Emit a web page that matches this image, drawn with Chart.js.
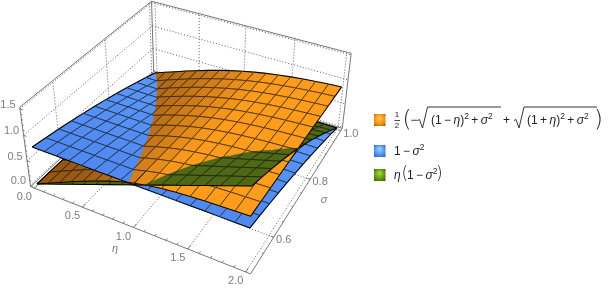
<!DOCTYPE html>
<html><head><meta charset="utf-8">
<script src="https://cdn.jsdelivr.net/npm/chart.js@4"></script>
<style>html,body{margin:0;padding:0;background:#fff}canvas{display:block}</style>
</head><body><canvas id="c" width="608" height="289"></canvas>
<script>
const etaGrid=[0,.125,.25,.375,.5,.625,.75,.875,1,1.125,1.25,1.375,1.5,1.625,1.75,1.875,2];
const sigmaGrid=[.5,.54545,.59091,.63636,.68182,.72727,.77273,.81818,.86364,.90909,.95455,1];
const blueBySigma=[.750,.702,.651,.595,.535,.471,.403,.331,.254,.174,.089,0];
const greenRows=[
[0,0,0,0,0,0,0,0,0,0,0,0],
[.094,.088,.081,.074,.067,.059,.050,.041,.032,.022,.011,0],
[.188,.176,.163,.149,.134,.118,.101,.083,.064,.044,.022,0],
[.281,.263,.244,.223,.201,.177,.151,.124,.095,.065,.033,0],
[.375,.351,.326,.298,.268,.236,.202,.165,.127,.087,.044,0],
[.469,.439,.407,.372,.334,.294,.252,.207,.159,.109,.056,0],
[.563,.527,.488,.446,.401,.353,.302,.248,.191,.130,.067,0],
[.656,.614,.570,.521,.468,.412,.353,.290,.222,.152,.078,0],
[.750,.702,.651,.595,.535,.471,.403,.331,.254,.174,.089,0],
[.844,.790,.732,.669,.602,.530,.453,.372,.286,.196,.100,0],
[.938,.878,.814,.744,.669,.589,.504,.414,.318,.218,.111,0],
[1.031,.965,.895,.818,.736,.648,.554,.455,.349,.239,.122,0],
[1.125,1.053,.977,.893,.803,.707,.605,.496,.381,.261,.133,0],
[1.219,1.141,1.058,.967,.869,.765,.655,.538,.413,.283,.145,0],
[1.313,1.229,1.139,1.041,.936,.824,.705,.579,.445,.305,.156,0],
[1.406,1.316,1.221,1.116,1.003,.883,.756,.621,.476,.326,.167,0],
[1.5,1.404,1.302,1.190,1.070,.942,.806,.662,.508,.348,.178,0]];
const orangeRows=[
[0,0,0,0,0,0,0,0,0,0,0,0],
[.112,.110,.108,.105,.103,.101,.099,.097,.095,.092,.090,.088],
[.222,.218,.213,.209,.205,.201,.196,.192,.188,.184,.179,.175],
[.331,.324,.318,.311,.305,.298,.292,.285,.279,.273,.267,.261],
[.437,.428,.419,.410,.401,.392,.384,.375,.367,.358,.350,.342],
[.538,.526,.515,.503,.492,.481,.471,.460,.450,.440,.430,.420],
[.631,.617,.603,.590,.576,.563,.551,.538,.526,.515,.503,.492],
[.713,.697,.681,.666,.651,.637,.623,.609,.596,.583,.571,.559],
[.781,.764,.747,.731,.716,.701,.686,.671,.657,.644,.631,.618],
[.834,.818,.801,.785,.770,.755,.740,.725,.711,.697,.683,.670],
[.873,.858,.842,.827,.813,.798,.784,.770,.756,.742,.729,.716],
[.901,.887,.873,.860,.846,.833,.819,.806,.793,.780,.767,.754],
[.921,.909,.897,.884,.872,.860,.848,.836,.824,.811,.799,.787],
[.936,.925,.915,.904,.893,.882,.871,.860,.849,.838,.826,.815],
[.947,.938,.929,.919,.910,.900,.890,.880,.870,.859,.849,.838],
[.955,.947,.939,.931,.922,.913,.905,.895,.886,.877,.868,.858],
[.962,.955,.948,.940,.933,.925,.917,.909,.900,.892,.883,.874]];
const etaTicks=[0,.5,1,1.5,2], etaTickLabels=['0.0','0.5','1.0','1.5','2.0'];
const sigmaTicks=[.6,.8,1], sigmaTickLabels=['0.6','0.8','1.0'];
const zTicks=[0,.5,1,1.5], zTickLabels=['0.0','0.5','1.0','1.5'];
const etaMinor=[.1,.2,.3,.4,.6,.7,.8,.9,1.1,1.2,1.3,1.4,1.6,1.7,1.8,1.9];
const sigmaMinor=[.55,.65,.7,.75,.85,.9,.95];
const zMinor=[.1,.2,.3,.4,.6,.7,.8,.9,1.1,1.2,1.3,1.4];

// camera calibration (normalised box coords -> canvas scale units)
const CX=[37,182.3,151.5,-11.6],CY=[184,52.06,-95.2,-82.8],CD=[1,-.1159,.2163,-.06];
function proj(eta,sig,z){
  const u=eta/2,v=(sig-.5)/.5,w=z/1.5,d=CD[0]+CD[1]*u+CD[2]*v+CD[3]*w;
  return {x:(CX[0]+CX[1]*u+CX[2]*v+CX[3]*w)/d,y:(CY[0]+CY[1]*u+CY[2]*v+CY[3]*w)/d};
}
const E0=-.04,E1=2.04,S0=.49,S1=1.01,Z0=-.03,Z1=1.53;
const list=[]; // painter order: first = bottom
function seg(a,b,col,w,dash){list.push({data:[a,b],showLine:true,fill:false,borderColor:col,borderWidth:w,pointRadius:0,borderDash:dash||[1e5,1]});}
const DOT=[1,2],GD='#5a5a5a',AX='#777777';
etaTicks.forEach(e=>{seg(proj(e,S0,Z0),proj(e,S1,Z0),GD,1,DOT);seg(proj(e,S1,Z0),proj(e,S1,Z1),GD,1,DOT);});
sigmaTicks.forEach(s=>{seg(proj(E0,s,Z0),proj(E1,s,Z0),GD,1,DOT);seg(proj(E0,s,Z0),proj(E0,s,Z1),GD,1,DOT);});
zTicks.forEach(z=>{seg(proj(E0,S0,z),proj(E0,S1,z),GD,1,DOT);seg(proj(E0,S1,z),proj(E1,S1,z),GD,1,DOT);});
[[E0,S0,Z0,E0,S0,Z1],[E0,S0,Z1,E0,S1,Z1],[E0,S1,Z1,E1,S1,Z1],[E1,S1,Z1,E1,S1,Z0],[E0,S0,Z0,E1,S0,Z0],[E1,S0,Z0,E1,S1,Z0],[E0,S1,Z1,E0,S1,Z0],[E0,S0,Z0,E0,S1,Z0],[E0,S1,Z0,E1,S1,Z0]]
 .forEach(b=>seg(proj(b[0],b[1],b[2]),proj(b[3],b[4],b[5]),AX,1));
etaTicks.forEach(e=>seg(proj(e,S0,Z0),proj(e,S0+.012,Z0),AX,1));
etaMinor.forEach(e=>seg(proj(e,S0,Z0),proj(e,S0+.006,Z0),AX,1));
sigmaTicks.forEach(s=>seg(proj(E1,s,Z0),proj(E1-.025,s,Z0),AX,1));
sigmaMinor.forEach(s=>seg(proj(E1,s,Z0),proj(E1-.012,s,Z0),AX,1));
zTicks.forEach(z=>seg(proj(E0,S0,z),proj(E0+.03,S0,z),AX,1));
zMinor.forEach(z=>seg(proj(E0,S0,z),proj(E0+.015,S0,z),AX,1));

const PAIRS=[[0,1],[0,2],[1,2]],EPS=1e-9,NI=etaGrid.length-1,NJ=sigmaGrid.length-1;
const mix=(a,b,t)=>`rgb(${a.map((v,i)=>Math.round(v+(b[i]-v)*t)).join(',')})`;
function zOf(s,i,j){return s===0?orangeRows[i][j]:s===1?blueBySigma[j]:greenRows[i][j];}
function cellColor(s,i,j){
  if(s===1) return mix([80,138,240],[94,154,252],j/NJ);
  if(s===2) return 'rgb(78,104,22)';
  const sl=((zOf(0,i+1,j)+zOf(0,i+1,j+1))-(zOf(0,i,j)+zOf(0,i,j+1)))/2/.125;
  const t=Math.min(1,Math.max(0,(.88-sl)/.58));
  return mix([150,86,20],[255,156,28],t);
}
function split(poly,a,b){
  const P=[],N=[],n=poly.length;
  for(let k=0;k<n;k++){
    const p=poly[k],q=poly[(k+1)%n],hp=p.z[a]-p.z[b],hq=q.z[a]-q.z[b];
    (hp>=0?P:N).push(p);
    if((hp>=0)!==(hq>=0)){
      const t=hp/(hp-hq),m={e:p.e+(q.e-p.e)*t,s:p.s+(q.s-p.s)*t,z:p.z.map((v,c)=>v+(q.z[c]-v)*t)};
      P.push(m);N.push(m);
    }
  }
  return [P,N].filter(x=>x.length>=3);
}
for(let i=0;i<NI;i++)for(let j=NJ-1;j>=0;j--){
  const V=(a,b)=>({e:etaGrid[a],s:sigmaGrid[b],z:[zOf(0,a,b),zOf(1,a,b),zOf(2,a,b)]});
  const q=[V(i,j),V(i+1,j),V(i+1,j+1),V(i,j+1)];
  const mixed=PAIRS.some(([a,b])=>{const h=q.map(v=>v.z[a]-v.z[b]);return h.some(x=>x>EPS)&&h.some(x=>x<-EPS);});
  let pieces=[q];
  if(mixed){
    pieces=[[q[0],q[1],q[2]],[q[0],q[2],q[3]]];
    PAIRS.forEach(([a,b])=>{pieces=pieces.flatMap(p=>split(p,a,b));});
  }
  const ranks=pieces.map(p=>{
    const mean=[0,1,2].map(s=>p.reduce((t,v)=>t+v.z[s],0)/p.length);
    return [0,1,2].sort((a,b)=>mean[a]-mean[b]||a-b);
  });
  for(let rank=0;rank<3;rank++){
    pieces.forEach((p,pi)=>{
      const s=ranks[pi][rank];
      const pts=p.map(v=>proj(v.e,v.s,v.z[s])),col=cellColor(s,i,j);
      list.push({data:[...pts,pts[0]],showLine:true,fill:'shape',backgroundColor:col,borderColor:col,borderWidth:.6,pointRadius:0,borderDash:[1e5,1]});
    });
    pieces.forEach((p,pi)=>{
      const s=ranks[pi][rank];
      const mesh=[],bound=[];
      p.forEach((a,k)=>{
        const b=p[(k+1)%p.length],onE=[i,i+1].find(g=>Math.abs(a.e-etaGrid[g])<EPS&&Math.abs(b.e-etaGrid[g])<EPS),onS=[j,j+1].find(g=>Math.abs(a.s-sigmaGrid[g])<EPS&&Math.abs(b.s-sigmaGrid[g])<EPS);
        if(onE===undefined&&onS===undefined)return;
        const out=(onE===0||onE===NI||onS===0||onS===NJ)?bound:mesh;
        out.push(proj(a.e,a.s,a.z[s]),proj(b.e,b.s,b.z[s]),{x:NaN,y:NaN});
      });
      if(mesh.length)list.push({data:mesh,showLine:true,fill:false,borderColor:'rgba(15,15,15,.7)',borderWidth:.9,pointRadius:0,borderDash:[1e5,1]});
      if(bound.length)list.push({data:bound,showLine:true,fill:false,borderColor:'#000',borderWidth:1.05,pointRadius:0,borderDash:[1e5,1]});
    });
  }
}
const LF='"Liberation Sans",Arial,sans-serif';
const textPlugin={id:'labels',afterDatasetsDraw(ch){
  const c=ch.ctx,X=v=>ch.scales.x.getPixelForValue(v),Y=v=>ch.scales.y.getPixelForValue(v);
  c.save();c.textAlign='center';c.textBaseline='middle';c.fillStyle='#7d7d7d';c.font='11px '+LF;
  const put=(t,p,dx,dy)=>c.fillText(t,X(p.x)+dx,Y(p.y)+dy);
  etaTicks.forEach((e,k)=>put(etaTickLabels[k],proj(e,S0,Z0),-10,9));
  sigmaTicks.forEach((s,k)=>put(sigmaTickLabels[k],proj(E1,s,Z0),10,3));
  zTicks.forEach((z,k)=>put(zTickLabels[k],proj(E0,S0,z),-12,-4));
  c.font='italic 11px '+LF;
  c.fillText('η',115,249);c.fillText('σ',324,200);
  const sw=(y,a,b,d)=>{const g=c.createRadialGradient(379.5,y+4,1,379.5,y+6,9);g.addColorStop(0,a);g.addColorStop(.55,b);g.addColorStop(1,d);c.fillStyle=g;c.fillRect(374,y,11.5,12);};
  sw(114,'#ffc04a','#f09010','#7a4a08');sw(145,'#8cc8ff','#4a8cf0','#2a4a90');sw(169,'#9cd030','#5a9010','#2a4a08');
  c.fillStyle='#1e1e1e';c.textAlign='left';c.textBaseline='alphabetic';
  const R='px '+LF,I='italic ';
  const run=(x,y,parts)=>{for(const [t,sz,it,dy] of parts){c.font=(it?I:'')+sz+R;c.fillText(t,x,y-(dy||0));x+=c.measureText(t).width;}return x;};
  c.textAlign='center';c.font='8px '+LF;c.fillText('1',397,117);c.fillText('2',397,128);c.textAlign='left';
  c.strokeStyle='#1e1e1e';c.lineWidth=.8;c.beginPath();c.moveTo(394.5,120.5);c.lineTo(400,120.5);c.stroke();
  const THIN='200 23px "DejaVu Sans"';
  c.font=THIN;c.fillText('(',402.5,127);c.fillText(')',594,127);
  c.font='12px '+LF;c.fillText('−',410.5,124);
  c.lineWidth=.9;
  const rad=(a,b,e)=>{c.beginPath();c.moveTo(a,120.5);c.lineTo(a+2,119.5);c.lineTo(a+5,128);c.lineTo(b,107);c.lineTo(e,107);c.stroke();};
  rad(417.5,427.5,501);rad(514,524,597);
  const inner=(x,op)=>run(x,124,[['(1'+op,12],['η',12,1],[')',12],['2',8.5,0,5],['\u2009+\u2009',12],['σ',12,1],['2',8.5,0,5]]);
  inner(431,'\u2009−\u2009');inner(527,'\u2009+\u2009');
  c.font='12px '+LF;c.fillText('+',503,124);
  run(394,155,[['1\u2009−\u2009',12],['σ',12,1],['2',8.5,0,5]]);
  run(394,179,[['η',12,1]]);
  c.font=THIN.replace('23px','17px');c.fillText('(',401.5,179);c.fillText(')',436,179);
  run(407,179,[['1\u2009−\u2009',12],['σ',12,1],['2',8.5,0,5]]);
  c.restore();
}};
new Chart(document.getElementById('c'),{type:'scatter',data:{datasets:list.slice().reverse()},plugins:[textPlugin],options:{
  responsive:false,animation:false,events:[],layout:{padding:0},
  plugins:{legend:{display:false},tooltip:{enabled:false}},
  elements:{line:{tension:0}},
  scales:{x:{type:'linear',display:false,min:0,max:608},y:{type:'linear',display:false,min:0,max:289,reverse:true}}
}});
</script></body></html>
